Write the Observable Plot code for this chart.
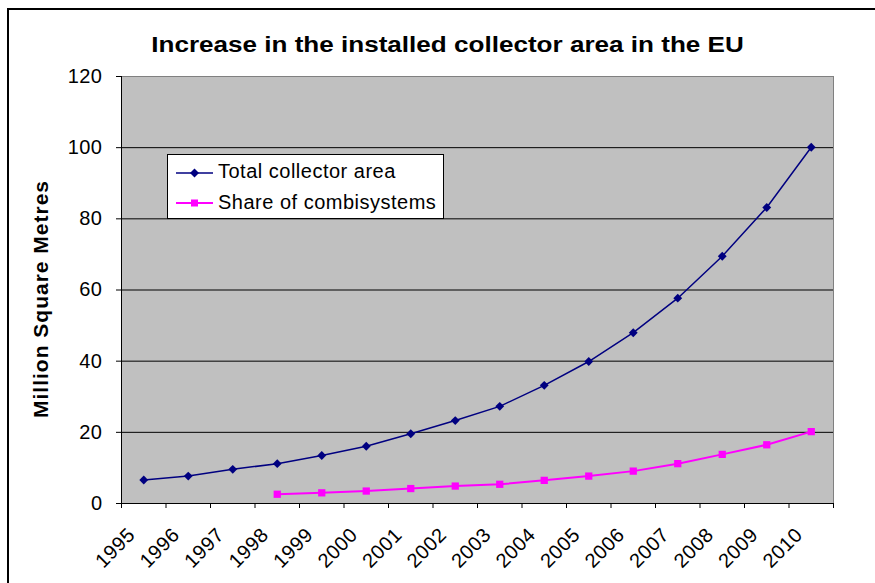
<!DOCTYPE html>
<html>
<head>
<meta charset="utf-8">
<script src="https://cdn.jsdelivr.net/npm/d3@7"></script>
<script src="https://cdn.jsdelivr.net/npm/@observablehq/plot@0.6"></script>
<style>
  body { margin: 0; background: #fff; font-family: "Liberation Sans", Arial, sans-serif; }
  #page { position: relative; width: 875px; height: 583px; overflow: hidden; background: #fff; }
  #chart { position: absolute; left: 0; top: 0; }
  #frame { position: absolute; left: 7px; top: 8px; width: 900px; height: 620px;
           border-top: 2px solid #000; border-left: 2px solid #000; pointer-events: none; }
  #title { position: absolute; left: 10px; top: 34px; width: 875px; text-align: center;
           font-weight: bold; font-size: 22px; line-height: 22px; color: #000;
           transform: scaleX(1.185); transform-origin: center; white-space: nowrap; }
  #legend { position: absolute; left: 167px; top: 154px; width: 277px; height: 65px;
            box-sizing: border-box; background: #fff; border: 1px solid #000; }
  #legend .sample { position: absolute; left: 7px; }
  #legend .lab { position: absolute; left: 50px; font-size: 20px; line-height: 20px;
                 letter-spacing: 0.5px; white-space: nowrap; color: #000; }
</style>
</head>
<body>
<div id="page">
  <div id="chart"></div>
  <div id="title">Increase in the installed collector area in the EU</div>
  <div id="legend">
    <svg class="sample" style="top:11px" width="40" height="14">
      <line x1="1" x2="38" y1="7" y2="7" stroke="#000080" stroke-width="1.5"/>
      <path d="M19.5,2.5 L24,7 L19.5,11.5 L15,7Z" fill="#000080"/>
    </svg>
    <span class="lab" style="top:6px">Total collector area</span>
    <svg class="sample" style="top:41px" width="40" height="14">
      <line x1="1" x2="38" y1="7" y2="7" stroke="#ff00ff" stroke-width="2"/>
      <rect x="16" y="3.5" width="7" height="7" fill="#ff00ff"/>
    </svg>
    <span class="lab" style="top:37px">Share of combisystems</span>
  </div>
  <div id="frame"></div>
</div>
<script>
// Installed solar thermal collector area in the EU, million m²
const years = ["1995", "1996", "1997", "1998", "1999", "2000", "2001", "2002",
               "2003", "2004", "2005", "2006", "2007", "2008", "2009", "2010"];
const totalArea = [6.6, 7.7, 9.6, 11.2, 13.5, 16.1, 19.6, 23.3,
                   27.3, 33.2, 39.9, 48.0, 57.7, 69.5, 83.2, 100.1];
const combiShare = [null, null, null, 2.6, 3.0, 3.5, 4.2, 4.9,
                    5.4, 6.5, 7.7, 9.1, 11.2, 13.8, 16.5, 20.2];
const yTicks = [0, 20, 40, 60, 80, 100, 120];
const yTitle = "Million Square Metres";

// each year sits in the middle of its category slot
const rows = years.map((year, i) => ({pos: i + 0.5, year, total: totalArea[i], combi: combiShare[i]}));
const combiRows = rows.filter(d => d.combi != null);

const chart = Plot.plot({
  width: 875,
  height: 583,
  marginLeft: 121,
  marginRight: 42,
  marginTop: 76,
  marginBottom: 80,
  style: {
    fontFamily: '"Liberation Sans", Arial, sans-serif',
    fontSize: "20px",
    letterSpacing: "0.5px",
    background: "transparent",
    color: "#000"
  },
  x: {type: "linear", domain: [0, years.length]},
  y: {domain: [0, 120]},
  marks: [
    Plot.frame({fill: "#c0c0c0", stroke: null}),
    Plot.ruleY(yTicks.filter(v => v > 0 && v < 120), {stroke: "#000", strokeWidth: 1}),
    Plot.ruleY([120], {stroke: "#808080"}),
    Plot.ruleX([years.length], {stroke: "#808080"}),
    Plot.axisY({ticks: yTicks, tickSize: 5, tickPadding: 14, label: null, stroke: "#000"}),
    Plot.axisX({ticks: d3.range(years.length + 1), tickSize: 5, tickFormat: () => "", label: null, stroke: "#000"}),
    Plot.axisX({
      ticks: rows.map(d => d.pos),
      tickSize: 0,
      tickPadding: 28,
      tickRotate: -45,
      dx: -12,
      tickFormat: v => years[Math.floor(v)],
      label: null
    }),
    Plot.ruleY([0], {stroke: "#000"}),
    Plot.ruleX([0], {stroke: "#000"}),
    Plot.line(rows, {x: "pos", y: "total", stroke: "#000080", strokeWidth: 1.5}),
    Plot.dot(rows, {x: "pos", y: "total", symbol: "diamond2", r: 4, fill: "#000080", stroke: null}),
    Plot.line(combiRows, {x: "pos", y: "combi", stroke: "#ff00ff", strokeWidth: 2}),
    Plot.dot(combiRows, {x: "pos", y: "combi", symbol: "square", r: 4.1, fill: "#ff00ff", stroke: null}),
    Plot.text([yTitle], {
      text: d => d,
      frameAnchor: "left",
      textAnchor: "middle",
      rotate: -90,
      dx: -80,
      dy: 9,
      fontWeight: "bold",
      fontSize: 21
    })
  ]
});

// the vertical axis title is set a little wider than the tick labels
d3.select(chart).selectAll("text")
  .filter(function () { return this.textContent === yTitle; })
  .style("letter-spacing", "1px");

document.getElementById("chart").appendChild(chart);
</script>
</body>
</html>
